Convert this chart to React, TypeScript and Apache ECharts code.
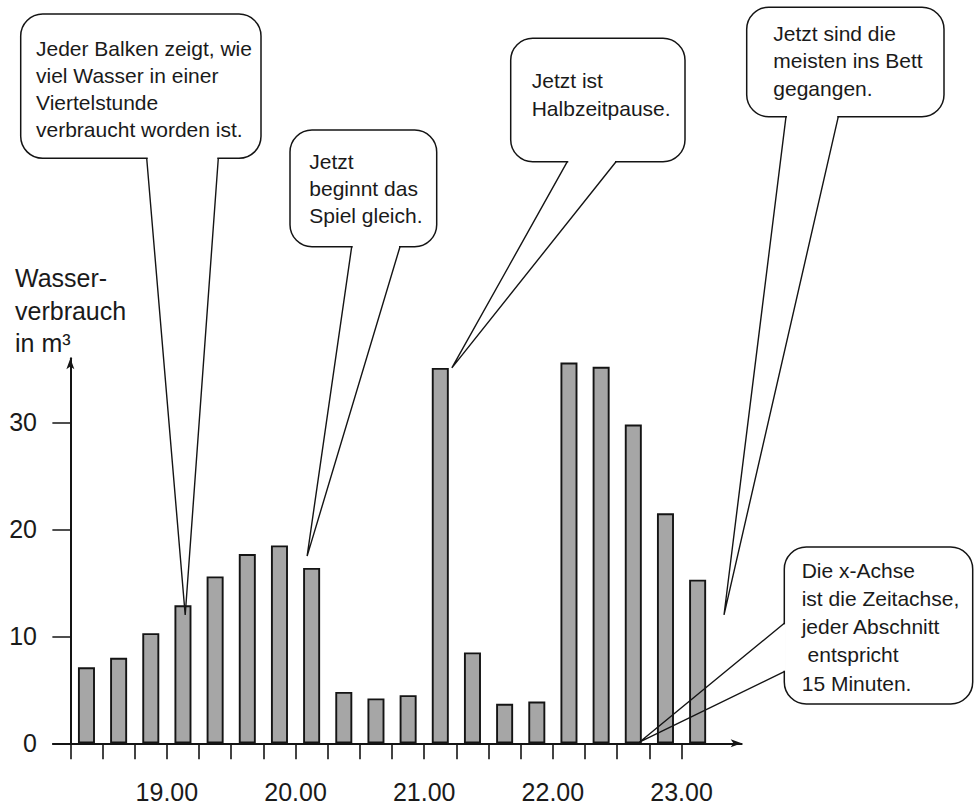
import React, { useEffect, useRef } from "react";
import * as echarts from "echarts";

// Start time of every quarter-hour slot (one bar per slot)
const slotStarts = [
  "18.15", "18.30", "18.45", "19.00", "19.15", "19.30", "19.45", "20.00", "20.15", "20.30",
  "20.45", "21.00", "21.15", "21.30", "21.45", "22.00", "22.15", "22.30", "22.45", "23.00",
];
// Water consumption per quarter hour, m³
const waterUse = [7.1, 8.0, 10.3, 12.9, 15.6, 17.7, 18.5, 16.4, 4.8, 4.2, 4.5, 35.1, 8.5, 3.7, 3.9, 35.6, 35.2, 29.8, 21.5, 15.3];
// Labelled hours on the time axis
const hourLabels = ["19.00", "20.00", "21.00", "22.00", "23.00"];
// Y-axis tick values
const yTickValues = [0, 10, 20, 30];
const yAxisTitle = ["Wasser-", "verbrauch", "in m³"];

const calloutTexts = [
  ["Jeder Balken zeigt, wie", "viel Wasser in einer", "Viertelstunde", "verbraucht worden ist."],
  ["Jetzt", "beginnt das", "Spiel gleich."],
  ["Jetzt ist", "Halbzeitpause."],
  ["Jetzt sind die", "meisten ins Bett", "gegangen."],
  ["Die x-Achse", "ist die Zeitachse,", "jeder Abschnitt", " entspricht", "15 Minuten."],
];
// What each callout points at, in data units (x: slots from 18.15, y: m³)
const calloutTargets = [
  [3.57, 12.0],
  [7.36, 17.5],
  [11.86, 35.1],
  [20.32, 12.0],
  [17.69, 0.1],
];

const FONT = '"Liberation Sans", Arial, sans-serif';
const INK = "#141414";
const X_MIN = -0.54;
const X_MAX = 20.87;
const Y_MAX = 36;

const boxes = [
  { x: 20.7, y: 14, w: 240.3, h: 144.3, tx: 36, ty: 35.6, lh: 26.7, side: "bottom", base: [146.7, 218.3] },
  { x: 290, y: 130, w: 146.7, h: 116.7, tx: 309.3, ty: 148.3, lh: 26.7, side: "bottom", base: [351.7, 400] },
  { x: 510.7, y: 38.3, w: 174.3, h: 123.4, tx: 531.7, ty: 66, lh: 28, side: "bottom", base: [567.3, 616] },
  { x: 746.7, y: 7.3, w: 197.3, h: 109.4, tx: 773.3, ty: 19.6, lh: 27.5, side: "bottom", base: [786, 838.3] },
  { x: 784.3, y: 547, w: 188.4, h: 157, tx: 801.7, ty: 555.9, lh: 28.25, side: "left", base: [623.3, 671.7] },
];

export default function App() {
  const ref = useRef<HTMLDivElement>(null);

  useEffect(() => {
    if (!ref.current) return;
    const chart = echarts.init(ref.current, null, { renderer: "svg" });

    // axis grid: left edge at x = X_MIN, 0 at the y axis
    const axLeft = 53;
    const axRight = 236.3;
    const gTop = 358.3;
    const gBottom = 61.7;
    const plotW = 978 - axLeft - axRight;
    const unit = plotW / (X_MAX - X_MIN);
    const yAxisX = axLeft + (0 - X_MIN) * unit;
    const barRight = 978 - (yAxisX + slotStarts.length * unit);

    const option: any = {
      animation: false,
      backgroundColor: "#ffffff",
      grid: [
        { left: axLeft, right: axRight, top: gTop, bottom: gBottom, containLabel: false, outerBoundsMode: "none" },
        { left: yAxisX, right: barRight, top: gTop, bottom: gBottom, containLabel: false, outerBoundsMode: "none" },
      ],
      xAxis: [
        {
          type: "value",
          gridIndex: 0,
          min: X_MIN,
          max: X_MAX,
          axisLine: {
            show: true,
            onZero: true,
            symbol: ["none", "arrow"],
            symbolSize: [6, 11],
            lineStyle: { color: INK, width: 2 },
          },
          axisTick: {
            show: true,
            customValues: slotStarts.map((_, i) => i),
            length: 16,
            lineStyle: { color: INK, width: 1.6 },
          },
          axisLabel: {
            show: true,
            customValues: hourLabels.map((h) => slotStarts.indexOf(h)),
            formatter: (v: number) => slotStarts[Math.round(v)],
            margin: 38,
            fontSize: 25,
            lineHeight: 22,
            fontFamily: FONT,
            color: "#1a1a1a",
          },
          splitLine: { show: false },
        },
        {
          type: "category",
          gridIndex: 1,
          data: slotStarts,
          show: false,
        },
      ],
      yAxis: [
        {
          type: "value",
          gridIndex: 0,
          min: 0,
          max: Y_MAX,
          axisLine: {
            show: true,
            onZero: true,
            symbol: ["none", "arrow"],
            symbolSize: [6, 11],
            lineStyle: { color: INK, width: 2 },
          },
          axisTick: {
            show: true,
            customValues: yTickValues,
            length: 18,
            lineStyle: { color: INK, width: 1.5 },
          },
          axisLabel: {
            show: true,
            customValues: yTickValues,
            // labels are placed from the grid's left edge
            margin: 16,
            fontSize: 25,
            fontFamily: FONT,
            color: "#1a1a1a",
          },
          splitLine: { show: false },
        },
        {
          type: "value",
          gridIndex: 1,
          min: 0,
          max: Y_MAX,
          show: false,
        },
      ],
      series: [
        {
          type: "bar",
          xAxisIndex: 1,
          yAxisIndex: 1,
          data: waterUse,
          barWidth: 17,
          silent: true,
          itemStyle: { color: "#a6a6a6", borderColor: INK, borderWidth: 1.9 },
        },
      ],
    };
    chart.setOption(option);

    const graphics: any[] = [
      {
        type: "text",
        x: 15,
        y: 262,
        z: 100,
        style: {
          text: yAxisTitle.join("\n"),
          fontSize: 25,
          fontFamily: FONT,
          lineHeight: 32.5,
          fill: "#1a1a1a",
          align: "left",
          verticalAlign: "top",
        },
      },
    ];
    boxes.forEach((b, i) => {
      const tip = chart.convertToPixel({ gridIndex: 0 } as any, calloutTargets[i]) as number[];
      let p1: number[];
      let p2: number[];
      let cover: any;
      if (b.side === "bottom") {
        const yb = b.y + b.h;
        p1 = [b.base[0], yb];
        p2 = [b.base[1], yb];
        cover = { x1: b.base[0] + 1, y1: yb, x2: b.base[1] - 1, y2: yb };
      } else {
        p1 = [b.x, b.base[0]];
        p2 = [b.x, b.base[1]];
        cover = { x1: b.x, y1: b.base[0] + 1, x2: b.x, y2: b.base[1] - 1 };
      }
      graphics.push({
        type: "rect",
        z: 100,
        shape: { x: b.x, y: b.y, width: b.w, height: b.h, r: 22 },
        style: { fill: "#ffffff", stroke: INK, lineWidth: 1.5 },
      });
      graphics.push({
        type: "line",
        z: 101,
        shape: cover,
        style: { stroke: "#ffffff", lineWidth: 3 },
      });
      graphics.push({
        type: "polyline",
        z: 102,
        shape: { points: [p1, tip, p2] },
        style: { stroke: INK, lineWidth: 1.4, fill: "none" },
      });
      graphics.push({
        type: "text",
        z: 103,
        x: b.tx,
        y: b.ty,
        style: {
          text: calloutTexts[i].join("\n"),
          fontSize: 21,
          fontFamily: FONT,
          lineHeight: b.lh,
          fill: "#1a1a1a",
          align: "left",
          verticalAlign: "top",
        },
      });
    });
    chart.setOption({ graphic: graphics });

    return () => chart.dispose();
  }, []);

  return (
    <div
      ref={ref}
      style={{ position: "fixed", left: 0, top: 0, width: 978, height: 805, background: "#fff" }}
    />
  );
}
